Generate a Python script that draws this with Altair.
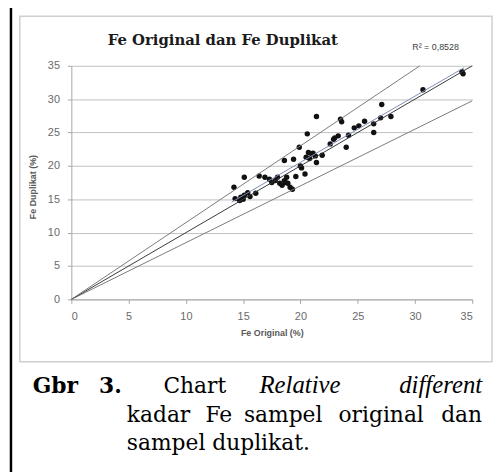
import altair as alt
import pandas as pd

# ---- data ----
fe_original = [14.2, 14.3, 14.7, 14.8, 15.0, 15.1, 15.4, 15.1, 15.6, 16.1,
               16.4, 16.9, 17.3, 17.5, 17.8, 18.0, 18.2, 18.4, 18.6, 18.7,
               18.8, 18.6, 18.9, 19.1, 19.3, 19.4, 19.9, 20.0, 20.1, 20.4,
               19.6, 20.7, 21.0, 21.3, 20.8, 21.4, 21.9, 21.1, 20.5, 20.6,
               21.4, 22.6, 22.9, 23.0, 23.3, 23.5, 23.6, 24.0, 24.2, 24.7,
               25.1, 25.6, 26.4, 26.4, 27.0, 27.1, 27.9, 30.7, 34.1, 34.2]
fe_duplikat = [16.8, 15.1, 14.8, 15.3, 15.0, 15.6, 16.0, 18.3, 15.4, 15.9,
               18.5, 18.3, 18.0, 17.5, 17.8, 18.3, 17.4, 17.1, 17.8, 17.5,
               18.3, 20.8, 17.4, 16.8, 16.5, 21.0, 22.8, 20.0, 19.7, 18.8,
               18.4, 22.0, 21.8, 21.5, 21.1, 20.5, 21.6, 21.9, 21.3, 24.8,
               27.4, 23.3, 24.0, 24.2, 24.5, 27.0, 26.6, 22.8, 24.6, 25.7,
               26.0, 26.7, 26.3, 25.0, 27.2, 29.2, 27.4, 31.4, 34.1, 33.8]
ref_slopes = [0.85, 1.0, 1.15]
ref_colors = ["#7a7a7a", "#3a3a3a", "#7a7a7a"]
axis_ticks = [0, 5, 10, 15, 20, 25, 30, 35]
axis_max = 35
r2_label = "R\u00b2 = 0,8528"
chart_title = "Fe Original dan Fe Duplikat"
x_title = "Fe Original (%)"
y_title = "Fe Duplikat (%)"

pts = pd.DataFrame({"x": fe_original, "y": fe_duplikat})

W, H = 405, 236
xs = alt.Scale(domain=[0, axis_max], nice=False)
ys = alt.Scale(domain=[0, axis_max], nice=False)

x_axis = alt.Axis(values=axis_ticks, grid=False, domainColor="#a6a6a6",
                  tickColor="#a6a6a6", tickSize=4, labelColor="#6a6a6a",
                  labelFontSize=11, labelFont="Liberation Sans", labelPadding=7,
                  title=x_title, titleFontSize=9, titleFont="Liberation Sans",
                  titleFontWeight="bold", titleColor="#595959",
                  titleX=W / 2, titleY=33, titleBaseline="middle")
y_axis = alt.Axis(values=axis_ticks, grid=True, gridColor="#c0c0c0",
                  domainColor="#a6a6a6", tickColor="#a6a6a6", tickSize=4,
                  labelColor="#6a6a6a", labelFontSize=11,
                  labelFont="Liberation Sans", labelPadding=8,
                  title=y_title, titleFontSize=9, titleFont="Liberation Sans",
                  titleFontWeight="bold", titleColor="#595959",
                  titleX=-39, titleY=H / 2 + 4, titleBaseline="middle")


def X(f="x"):
    return alt.X(f + ":Q", scale=xs, axis=x_axis)


def Y(f="y"):
    return alt.Y(f + ":Q", scale=ys, axis=y_axis)


points = alt.Chart(pts).mark_circle(size=30, color="#111111", opacity=1).encode(
    x=X(), y=Y())

ref_layers = []
for s, c in zip(ref_slopes, ref_colors):
    xe = min(axis_max, axis_max / s)
    d = pd.DataFrame({"x": [0.0, xe], "y": [0.0, s * xe]})
    ref_layers.append(alt.Chart(d).mark_line(strokeWidth=1, color=c).encode(
        x=X(), y=Y()))

trend = alt.Chart(pts).transform_regression(
    "x", "y", extent=[14.0, 34.3]
).mark_line(color="#7d8db5", strokeWidth=1).encode(x=X(), y=Y())

one = alt.Data(values=[{"k": 0}])


def txt(text, x, y, **kw):
    return alt.Chart(one).mark_text(**kw).encode(
        x=alt.value(x), y=alt.value(y), text=alt.value(text))


# plot origin is at page (72, 64)
OX, OY = 72, 64
title = txt(chart_title, 225 - OX, 38 - OY, font="DejaVu Serif",
            fontWeight="bold", fontSize=15, color="#1a1a1a", align="center",
            baseline="middle")
r2 = txt(r2_label, 440 - OX, 45 - OY, font="Liberation Sans", fontSize=9,
         color="#404040", align="center", baseline="middle")

cap = dict(font="DejaVu Serif", fontSize=22, color="#000000",
           baseline="alphabetic")
ital = dict(font="Liberation Serif", fontSize=25, fontStyle="italic",
            color="#000000", baseline="alphabetic")
b1, b2, b3 = 395 - OY, 424 - OY, 452 - OY
captions = [
    txt("Gbr", 33 - OX, b1, fontWeight="bold", align="left", **cap),
    txt("3.", 100 - OX, b1, fontWeight="bold", align="left", **cap),
    txt("Chart", 165 - OX, b1, align="left", **cap),
    txt("Relative", 303 - OX, b1, align="center", **ital),
    txt("different", 487 - OX, b1, align="right", **ital),
    txt("kadar", 128 - OX, b2, align="left", **cap),
    txt("Fe", 221 - OX, b2, align="center", **cap),
    txt("sampel", 286 - OX, b2, align="center", **cap),
    txt("original", 385 - OX, b2, align="center", **cap),
    txt("dan", 487 - OX, b2, align="right", **cap),
    txt("sampel duplikat.", 128 - OX, b3, align="left", **cap),
]

box = alt.Chart(one).mark_rect(fillOpacity=0, stroke="#cfcfcf",
                               strokeWidth=1.5).encode(
    x=alt.value(20 - OX), x2=alt.value(497 - OX),
    y=alt.value(14 - OY), y2=alt.value(363 - OY))
left_rule = alt.Chart(one).mark_rule(color="#000000", strokeWidth=2.5).encode(
    x=alt.value(11 - OX), y=alt.value(3 - OY), y2=alt.value(490 - OY))
top_rule = alt.Chart(one).mark_rule(color="#000000", strokeWidth=2.5).encode(
    x=alt.value(10 - OX), x2=alt.value(510 - OX), y=alt.value(4 - OY))

chart = alt.layer(
    points, *ref_layers, trend, box, title, r2,
    *captions, left_rule, top_rule
).properties(
    width=W, height=H,
    autosize=alt.AutoSizeParams(type="none"),
    padding={"left": 64, "top": 56, "right": 22, "bottom": 172},
    background="#ffffff",
).configure_view(stroke=None)

chart.save("out.html", embed_options={"renderer": "svg", "actions": False})
